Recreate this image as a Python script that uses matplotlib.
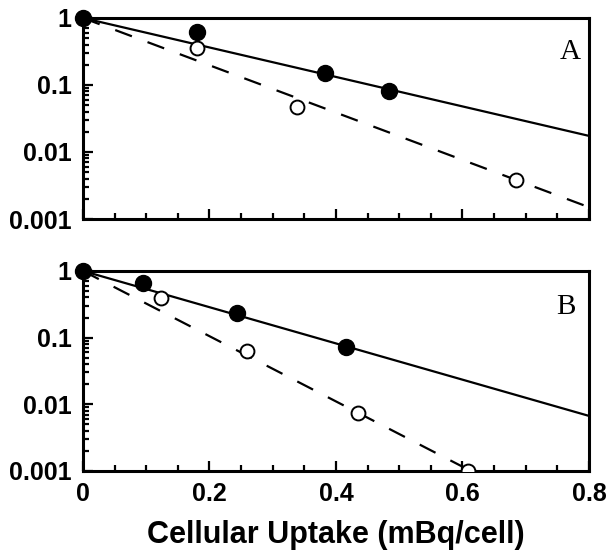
import numpy as np
import matplotlib.pyplot as plt
import matplotlib.ticker as mtick

# ── Data ─────────────────────────────────────────────────────
# Panel A
a_filled_x = [0.0, 0.18, 0.383, 0.484]
a_filled_y = [1.0, 0.62, 0.15, 0.081]
a_open_x   = [0.18, 0.338, 0.685]
a_open_y   = [0.36, 0.047, 0.0038]
a_solid_y  = [1.0, 0.0174]   # fitted line at x = 0, 0.8
a_dash_y   = [1.0, 0.0015]

# Panel B
b_filled_x = [0.0, 0.095, 0.244, 0.416]
b_filled_y = [1.0, 0.66, 0.234, 0.072]
b_open_x   = [0.123, 0.26, 0.435, 0.609]
b_open_y   = [0.39, 0.063, 0.0074, 0.001]
b_solid_y  = [1.0, 0.0067]
b_dash_y   = [1.0, 0.000122]

line_x = [0.0, 0.8]
yticks = [0.001, 0.01, 0.1, 1]
ytick_labels = ['0.001', '0.01', '0.1', '1']
xticks = [0, 0.2, 0.4, 0.6, 0.8]
xtick_labels = ['0', '0.2', '0.4', '0.6', '0.8']

plt.rcParams['font.family'] = ['Liberation Sans', 'DejaVu Sans']

fig = plt.figure(figsize=(6.07, 5.55), dpi=100)
ax_a = fig.add_axes([0.1367, 0.6054, 0.8336, 0.3622])
ax_b = fig.add_axes([0.1367, 0.1514, 0.8336, 0.3604])


def style(ax, show_xlabels):
    ax.set_yscale('log')
    ax.set_xlim(0, 0.8)
    ax.set_ylim(0.001, 1)
    for s in ax.spines.values():
        s.set_linewidth(2.2)
    ax.set_yticks(yticks)
    ax.set_yticklabels(ytick_labels)
    ax.yaxis.set_minor_locator(mtick.LogLocator(base=10, subs=np.arange(2, 10)))
    ax.yaxis.set_minor_formatter(mtick.NullFormatter())
    ax.set_xticks(xticks)
    ax.xaxis.set_minor_locator(mtick.MultipleLocator(0.05))
    if show_xlabels:
        ax.set_xticklabels(xtick_labels)
    else:
        ax.set_xticklabels([])
    ax.tick_params(which='both', direction='in', top=False, right=False,
                   width=1.6, labelsize=18, pad=8)
    ax.tick_params(which='major', length=7)
    ax.tick_params(which='minor', length=4)
    for t in ax.get_xticklabels() + ax.get_yticklabels():
        t.set_fontweight('bold')


def panel(ax, fx, fy, ox, oy, sy, dy, label, lx, ly):
    ax.plot(line_x, sy, '-', color='black', lw=1.6, zorder=2)
    ax.plot(line_x, dy, '--', color='black', lw=1.6, dashes=(8, 7.5), zorder=2)
    ax.plot(ox, oy, 'o', ms=10, mfc='white', mec='black', mew=1.4, zorder=3)
    ax.plot(fx, fy, 'o', ms=11.5, color='black', zorder=4, clip_on=False)
    ax.text(lx, ly, label, transform=ax.transAxes, ha='right', va='center',
            fontsize=21, family=['Liberation Serif', 'DejaVu Serif'])


panel(ax_a, a_filled_x, a_filled_y, a_open_x, a_open_y, a_solid_y, a_dash_y, 'A', 0.984, 0.83)
panel(ax_b, b_filled_x, b_filled_y, b_open_x, b_open_y, b_solid_y, b_dash_y, 'B', 0.974, 0.82)
style(ax_a, False)
style(ax_b, True)

ax_b.set_xlabel('Cellular Uptake (mBq/cell)', fontsize=22, fontweight='bold', labelpad=10)

plt.savefig('out.png', dpi=100)
plt.close()
